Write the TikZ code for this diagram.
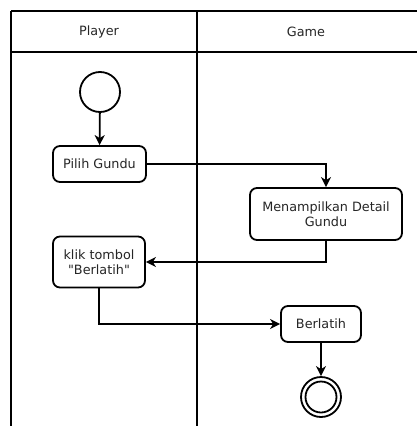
\documentclass[tikz,border=0pt]{standalone}
\usepackage{fontspec}
\setmainfont{DejaVu Sans}[Ligatures=TeXOff]
\usetikzlibrary{arrows.meta}
\begin{document}
\begin{tikzpicture}[x=1pt,y=-1pt,
  lane/.style={line width=1.8pt},
  action/.style={draw,line width=1.8pt,rounded corners=7pt,fill=white,
    align=center,inner sep=0pt,font=\fontsize{12.8}{15}\selectfont,text=black!85},
  flow/.style={line width=1.8pt,-{Stealth[length=10pt,width=10pt,inset=3pt]}},
  hdr/.style={font=\fontsize{12.8}{15}\selectfont,text=black!85}]
\useasboundingbox (0,0) rectangle (417,426);
% swimlanes
\draw[lane] (11,11) -- (417,11);
\draw[lane] (11,52) -- (417,52);
\draw[lane] (11,11) -- (11,426);
\draw[lane] (197,11) -- (197,426);
\node[hdr] (hp) at (99,32) {Player};
\node[hdr] (hg) at (306,32) {Game};
% nodes
\node[draw,circle,line width=1.8pt,minimum size=40pt,inner sep=0pt] (start) at (100,92) {};
\node[action,minimum width=93pt,minimum height=36pt] (pilih) at (99.5,164) {Pilih Gundu};
\node[action,minimum width=152pt,minimum height=52pt] (detail) at (326,214) {Menampilkan Detail\\Gundu};
\node[action,minimum width=92pt,minimum height=51pt] (klik) at (99,262) {klik tombol\\"Berlatih"};
\node[action,minimum width=80pt,minimum height=36pt] (latih) at (321,324) {Berlatih};
\node[draw,circle,line width=1.8pt,minimum size=40pt,inner sep=0pt] (end) at (321,397) {};
\node[draw,circle,line width=1.8pt,minimum size=31pt,inner sep=0pt] (endin) at (end) {};
% flows
\draw[flow] (start) -- (pilih);
\draw[flow] (pilih.east) -| (detail.north);
\draw[flow] (detail.south) |- (klik.east);
\draw[flow] (klik.south) |- (latih.west);
\draw[flow] (latih) -- (end);
\end{tikzpicture}
\end{document}
